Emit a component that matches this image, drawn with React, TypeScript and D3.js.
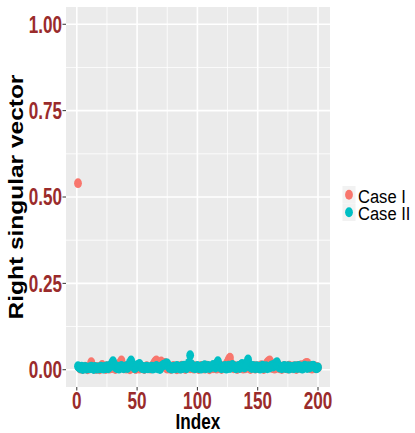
import React from "react";
import { scaleLinear, range } from "d3";

// x = Index 1..200
const caseI = [
  0.54, 0.006, 0.003, 0.008, 0.002, 0.005, 0.009, 0.004, 0.001, 0.007, 0.012, 0.022, 0.010, 0.003, 0.006, 0.002, 0.008, 0.005, 0.001, 0.009,
  0.014, 0.004, 0.007, 0.002, 0.010, 0.006, 0.003, 0.008, 0.005, 0.011, 0.004, 0.002, 0.009, 0.006, 0.013, 0.020, 0.027, 0.015, 0.004, 0.007,
  0.003, 0.010, 0.006, 0.001, 0.008, 0.005, 0.012, 0.004, 0.002, 0.009, 0.007, 0.003, 0.011, 0.005, 0.008, 0.002, 0.006, 0.010, 0.004, 0.007,
  0.003, 0.009, 0.012, 0.018, 0.024, 0.027, 0.010, 0.005, 0.016, 0.024, 0.008, 0.013, 0.020, 0.006, 0.003, 0.009, 0.005, 0.002, 0.008, 0.011,
  0.004, 0.007, 0.001, 0.010, 0.006, 0.003, 0.012, 0.005, 0.008, 0.002, 0.009, 0.006, 0.011, 0.004, 0.015, 0.007, 0.003, 0.010, 0.005, 0.008,
  0.002, 0.006, 0.011, 0.004, 0.009, 0.003, 0.007, 0.012, 0.005, 0.001, 0.008, 0.010, 0.004, 0.006, 0.013, 0.003, 0.009, 0.005, 0.007, 0.002,
  0.010, 0.006, 0.012, 0.016, 0.022, 0.030, 0.035, 0.018, 0.008, 0.004, 0.011, 0.006, 0.002, 0.009, 0.005, 0.013, 0.007, 0.003, 0.010, 0.004,
  0.008, 0.012, 0.005, 0.002, 0.009, 0.006, 0.011, 0.003, 0.007, 0.010, 0.004, 0.008, 0.013, 0.006, 0.002, 0.009, 0.016, 0.021, 0.025, 0.027,
  0.012, 0.005, 0.008, 0.003, 0.010, 0.006, 0.014, 0.004, 0.009, 0.002, 0.007, 0.011, 0.005, 0.008, 0.003, 0.012, 0.006, 0.009, 0.004, 0.010,
  0.007, 0.002, 0.011, 0.005, 0.008, 0.013, 0.004, 0.010, 0.016, 0.019, 0.020, 0.009, 0.005, 0.012, 0.003, 0.007, 0.010, 0.004, 0.008, 0.006,
];

const caseII = [
  0.010, 0.007, 0.004, 0.009, 0.002, 0.006, 0.008, 0.003, 0.005, 0.007, 0.004, 0.009, 0.006, 0.002, 0.008, 0.005, 0.003, 0.007, 0.004, 0.009,
  0.006, 0.003, 0.008, 0.005, 0.010, 0.004, 0.007, 0.012, 0.018, 0.025, 0.016, 0.008, 0.005, 0.009, 0.003, 0.007, 0.011, 0.006, 0.004, 0.008,
  0.010, 0.005, 0.013, 0.020, 0.027, 0.018, 0.009, 0.004, 0.007, 0.011, 0.015, 0.017, 0.010, 0.005, 0.008, 0.003, 0.006, 0.009, 0.004, 0.007,
  0.005, 0.009, 0.003, 0.008, 0.006, 0.011, 0.004, 0.007, 0.002, 0.009, 0.012, 0.015, 0.014, 0.018, 0.018, 0.010, 0.005, 0.008, 0.003, 0.007,
  0.009, 0.004, 0.011, 0.006, 0.008, 0.003, 0.010, 0.005, 0.012, 0.007, 0.004, 0.009, 0.020, 0.042, 0.016, 0.006, 0.009, 0.004, 0.007, 0.011,
  0.005, 0.008, 0.003, 0.010, 0.006, 0.013, 0.004, 0.008, 0.011, 0.005, 0.007, 0.009, 0.014, 0.010, 0.006, 0.018, 0.025, 0.015, 0.007, 0.004,
  0.009, 0.006, 0.011, 0.003, 0.008, 0.012, 0.005, 0.009, 0.014, 0.010, 0.006, 0.004, 0.008, 0.011, 0.005, 0.013, 0.017, 0.010, 0.006, 0.009,
  0.020, 0.030, 0.016, 0.008, 0.005, 0.011, 0.007, 0.004, 0.010, 0.006, 0.009, 0.003, 0.008, 0.012, 0.005, 0.007, 0.010, 0.004, 0.008, 0.006,
  0.011, 0.013, 0.009, 0.015, 0.019, 0.022, 0.012, 0.006, 0.009, 0.004, 0.008, 0.011, 0.005, 0.007, 0.010, 0.003, 0.009, 0.006, 0.008, 0.004,
  0.010, 0.007, 0.005, 0.011, 0.006, 0.009, 0.003, 0.008, 0.012, 0.007, 0.005, 0.010, 0.006, 0.009, 0.011, 0.012, 0.008, 0.005, 0.004, 0.007,
];

const seriesNames = ["Case I", "Case II"];
const seriesColors = ["#F8766D", "#00BFC4"];
const xTicks = [0, 50, 100, 150, 200];
const xMinor = [25, 75, 125, 175];
const yTicks = [0, 0.25, 0.5, 0.75, 1];
const yMinor = [0.125, 0.375, 0.625, 0.875];

const W = 415;
const H = 433;
const panel = { left: 66, right: 330, top: 7, bottom: 387 };
const font = "'Liberation Sans', Arial, sans-serif";
const tickColor = "#9A2B2B";
const rx = 3.9;
const ry = 4.9;

export default function App() {
  const x = scaleLinear().domain([1 - 9.95, 200 + 9.95]).range([panel.left, panel.right]);
  const y = scaleLinear().domain([-0.05, 1.05]).range([panel.bottom, panel.top]);
  const idx = range(1, 201);
  const series = [caseI, caseII];

  return (
    <svg width={W} height={H} style={{ position: "absolute", left: 0, top: 0, background: "#fff" }}>
      {/* panel */}
      <rect x={panel.left} y={panel.top} width={panel.right - panel.left} height={panel.bottom - panel.top} fill="#EBEBEB" />
      {xMinor.map((t) => (
        <line key={"xm" + t} x1={x(t)} x2={x(t)} y1={panel.top} y2={panel.bottom} stroke="#fff" strokeWidth={0.8} />
      ))}
      {yMinor.map((t) => (
        <line key={"ym" + t} x1={panel.left} x2={panel.right} y1={y(t)} y2={y(t)} stroke="#fff" strokeWidth={0.8} />
      ))}
      {xTicks.map((t) => (
        <line key={"xg" + t} x1={x(t)} x2={x(t)} y1={panel.top} y2={panel.bottom} stroke="#fff" strokeWidth={1.6} />
      ))}
      {yTicks.map((t) => (
        <line key={"yg" + t} x1={panel.left} x2={panel.right} y1={y(t)} y2={y(t)} stroke="#fff" strokeWidth={1.6} />
      ))}

      {/* points */}
      {series.map((vals, si) =>
        vals.map((v, i) => (
          <ellipse key={si + "-" + i} cx={x(idx[i])} cy={y(v)} rx={rx} ry={ry} fill={seriesColors[si]} />
        ))
      )}

      {/* y axis */}
      {yTicks.map((t) => (
        <g key={"yt" + t}>
          <line x1={panel.left - 3.5} x2={panel.left} y1={y(t)} y2={y(t)} stroke="#333" strokeWidth={1} />
          <text
            transform={`translate(${panel.left - 4},${y(t) + 8.3}) scale(0.745,1)`}
            textAnchor="end"
            fontFamily={font}
            fontWeight="bold"
            fontSize={23}
            fill={tickColor}
          >
            {t.toFixed(2)}
          </text>
        </g>
      ))}

      {/* x axis */}
      {xTicks.map((t) => (
        <g key={"xt" + t}>
          <line x1={x(t)} x2={x(t)} y1={panel.bottom} y2={panel.bottom + 3.5} stroke="#333" strokeWidth={1} />
          <text
            transform={`translate(${x(t)},${panel.bottom + 22}) scale(0.745,1)`}
            textAnchor="middle"
            fontFamily={font}
            fontWeight="bold"
            fontSize={23}
            fill={tickColor}
          >
            {t}
          </text>
        </g>
      ))}

      {/* axis titles */}
      <text
        transform={`translate(${(panel.left + panel.right) / 2},429) scale(0.78,1)`}
        textAnchor="middle"
        fontFamily={font}
        fontWeight="bold"
        fontSize={22}
        fill="#000"
      >
        Index
      </text>
      <text
        transform={`translate(23,${(panel.top + panel.bottom) / 2}) rotate(-90) scale(1.02,0.82)`}
        textAnchor="middle"
        fontFamily={font}
        fontWeight="bold"
        fontSize={24}
        fill="#000"
      >
        Right singular vector
      </text>

      {/* legend */}
      {seriesNames.map((name, i) => {
        const top = 186 + i * 17.5;
        return (
          <g key={name}>
            <rect x={342.5} y={top} width={13} height={17.5} fill="#F2F2F2" />
            <ellipse cx={349} cy={top + 8.75} rx={rx} ry={ry} fill={seriesColors[i]} />
            <text
              transform={`translate(358,${top + 16.5}) scale(0.87,1)`}
              fontFamily={font}
              fontSize={19}
              fill="#000"
            >
              {name}
            </text>
          </g>
        );
      })}
    </svg>
  );
}
